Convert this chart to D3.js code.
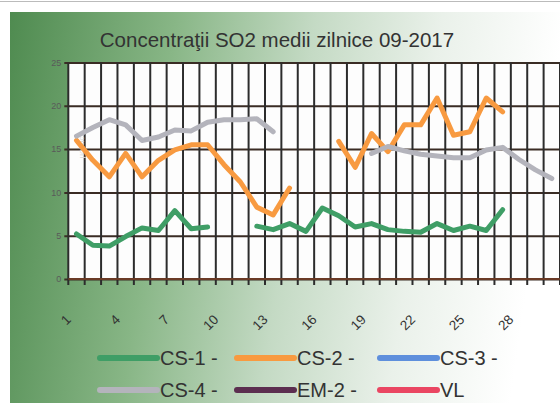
<!DOCTYPE html>
<html>
<head>
<meta charset="utf-8">
<script src="https://cdn.jsdelivr.net/npm/d3@7"></script>
<style>
  body { margin: 0; background: #fff; }
  svg { display: block; font-family: "Liberation Sans", Arial, sans-serif; }
</style>
</head>
<body>
<div id="chart"></div>
<script>
// days of 09-2017
var days = d3.range(1, 31);
var tickDays = [1, 4, 7, 10, 13, 16, 19, 22, 25, 28];
var yTicks = [0, 5, 10, 15, 20, 25];

var cs1 = [5.2, 3.9, 3.8, 4.9, 5.9, 5.6, 7.9, 5.8, 6.0, null, null, 6.1, 5.7, 6.4, 5.5,
           8.2, 7.3, 6.0, 6.4, 5.7, 5.5, 5.4, 6.4, 5.6, 6.1, 5.6, 8.0, null, null, null];
var cs2 = [16.0, 13.7, 11.8, 14.5, 11.8, 13.7, 14.9, 15.5, 15.5, 13.2, 11.2, 8.3, 7.4, 10.5, null,
           null, 15.9, 12.9, 16.8, 14.7, 17.8, 17.8, 20.9, 16.6, 17.0, 20.9, 19.3, null, null, null];
var cs3 = days.map(function() { return null; });
var cs4 = [16.5, 17.5, 18.4, 17.8, 16.0, 16.4, 17.2, 17.1, 18.1, 18.4, 18.4, 18.5, 17.0, null, null,
           null, null, null, 14.5, 15.3, 14.8, 14.4, 14.2, 14.0, 14.0, 14.9, 15.2, 13.8, 12.6, 11.6];
var em2 = days.map(function() { return null; });
var vl = days.map(function() { return null; });

var seriesNames = ["CS-1 -", "CS-2 -", "CS-3 -", "CS-4 -", "EM-2 -", "VL"];
var seriesValues = [cs1, cs2, cs3, cs4, em2, vl];
var seriesColors = ["#3f9e66", "#f89a40", "#5e8fdc", "#b4b4bc", "#5c2e50", "#ea4662"];

var width = 560, height = 403;
var margin = {top: 62.5, right: 0, bottom: 124, left: 68.3};
var plotW = width - margin.left - margin.right,
    plotH = height - margin.top - margin.bottom;

var svg = d3.select("#chart").append("svg")
    .attr("width", width)
    .attr("height", height);

var defs = svg.append("defs");
var grad = defs.append("linearGradient")
    .attr("id", "bg")
    .attr("x1", "0").attr("y1", "0").attr("x2", "1").attr("y2", "0.1");
grad.append("stop").attr("offset", "0").attr("stop-color", "#4f8b50");
grad.append("stop").attr("offset", "0.3").attr("stop-color", "#88b686");
grad.append("stop").attr("offset", "0.55").attr("stop-color", "#c4dac4");
grad.append("stop").attr("offset", "0.78").attr("stop-color", "#eaf1ea");
grad.append("stop").attr("offset", "1").attr("stop-color", "#ffffff");

// scan border at top
svg.append("line")
    .attr("x1", 0).attr("x2", width).attr("y1", 1.5).attr("y2", 1.5)
    .style("stroke", "#bbb").style("stroke-width", 1);

svg.append("rect")
    .attr("x", 10).attr("y", 12)
    .attr("width", width - 10).attr("height", height - 12)
    .style("fill", "url(#bg)");

svg.append("text")
    .attr("x", 277).attr("y", 47)
    .attr("text-anchor", "middle")
    .style("font-size", "20.5px")
    .style("fill", "#333")
    .text("Concentraţii SO2 medii zilnice 09-2017");

var g = svg.append("g")
    .attr("transform", "translate(" + margin.left + "," + margin.top + ")");

var x = d3.scaleBand()
    .domain(days)
    .range([0, plotW]);

var y = d3.scaleLinear()
    .domain([0, 25])
    .range([plotH, 0]);

g.append("rect")
    .attr("width", plotW).attr("height", plotH)
    .style("fill", "#fdfdfd");

// horizontal gridlines
g.append("g")
    .attr("class", "y axis")
    .call(d3.axisLeft(y).tickValues(yTicks).tickSize(-plotW - 4).tickSizeOuter(0).tickPadding(7))
    .call(function(a) {
        a.select(".domain").remove();
        a.selectAll("line")
            .attr("x1", -4)
            .attr("x2", plotW)
            .style("stroke", "#3a2c24")
            .style("stroke-width", 2);
        a.selectAll("text")
            .style("font-size", "9px")
            .style("fill", "#5a5a5a");
    });

// vertical gridlines at category boundaries
var edges = days.map(function(d) { return x(d); }).concat([plotW]);
g.selectAll(".vgrid")
    .data(edges)
  .enter().append("line")
    .attr("class", "vgrid")
    .attr("x1", function(d) { return d; })
    .attr("x2", function(d) { return d; })
    .attr("y1", 0)
    .attr("y2", plotH + 6)
    .style("stroke", "#2c2c2c")
    .style("stroke-width", 2);

// bottom axis line
g.append("line")
    .attr("x1", 0).attr("x2", plotW)
    .attr("y1", plotH).attr("y2", plotH)
    .style("stroke", "#6a3a26")
    .style("stroke-width", 2);

// x labels
g.selectAll(".xlab")
    .data(tickDays)
  .enter().append("text")
    .attr("class", "xlab")
    .attr("transform", function(d) {
        return "translate(" + (x(d) + x.bandwidth() / 2 - 8) + "," + (plotH + 38) + ") rotate(-45)";
    })
    .attr("text-anchor", "end")
    .attr("dy", "0.35em")
    .style("font-size", "13.5px")
    .style("fill", "#333")
    .text(function(d) { return d; });

g.append("text")
    .attr("transform", "translate(16,85) rotate(-90)")
    .attr("text-anchor", "middle")
    .style("font-size", "8px")
    .style("fill", "#d8d8d8")
    .text("µg/mc");

var line = d3.line()
    .defined(function(d) { return d.v != null; })
    .x(function(d) { return x(d.day) + x.bandwidth() / 2; })
    .y(function(d) { return y(d.v); });

seriesValues.forEach(function(vals, i) {
    var pts = days.map(function(d, j) { return {day: d, v: vals[j]}; });
    g.append("path")
        .datum(pts)
        .attr("d", line)
        .style("fill", "none")
        .style("stroke", seriesColors[i])
        .style("stroke-width", 5)
        .style("stroke-linejoin", "round")
        .style("stroke-linecap", "round");
});

// legend
var legendX = [100, 237, 380];
var legendY = [358, 390];
var legend = svg.selectAll(".legend")
    .data(seriesNames)
  .enter().append("g")
    .attr("class", "legend")
    .attr("transform", function(d, i) {
        return "translate(" + legendX[i % 3] + "," + legendY[Math.floor(i / 3)] + ")";
    });

legend.append("line")
    .attr("x1", 0).attr("x2", 57)
    .attr("y1", 0).attr("y2", 0)
    .style("stroke", function(d, i) { return seriesColors[i]; })
    .style("stroke-width", 6)
    .style("stroke-linecap", "round");

legend.append("text")
    .attr("x", 60)
    .attr("dy", "0.36em")
    .style("font-size", "20px")
    .style("fill", "#333")
    .text(function(d) { return d; });
</script>
</body>
</html>
